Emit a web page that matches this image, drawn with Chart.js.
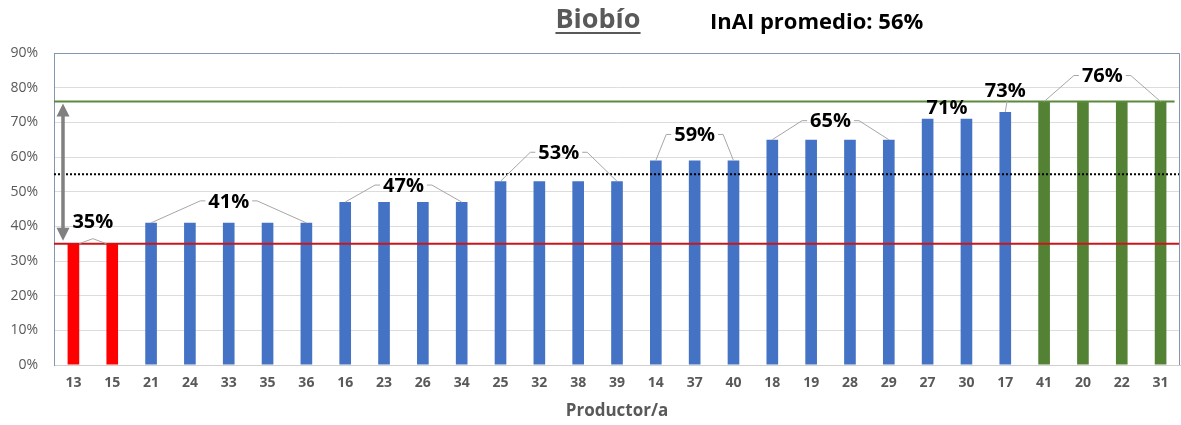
<!DOCTYPE html>
<html>
<head>
<meta charset="utf-8">
<script src="https://cdn.jsdelivr.net/npm/chart.js@4/dist/chart.umd.min.js"></script>
<style>
  html, body { margin: 0; padding: 0; background: #ffffff; }
  #wrap { position: relative; width: 1181px; height: 425px; }
</style>
</head>
<body>
<div id="wrap"><canvas id="c" width="1181" height="425"></canvas></div>
<script>
// Producers, ordered by index value
const categories = ['13','15','21','24','33','35','36','16','23','26','34','25','32','38','39',
                    '14','37','40','18','19','28','29','27','30','17','41','20','22','31'];
// InAI per producer (%)
const values = [35,35,41,41,41,41,41,47,47,47,47,53,53,53,53,
                59,59,59,65,65,65,65,71,71,73,76,76,76,76];
// Y axis ticks (%)
const yTicks = [0,10,20,30,40,50,60,70,80,90];
// Reference levels (%)
const minLevel = 35;
const maxLevel = 76;
const avgLevel = 55;
// Groups of producers sharing the same value: first and last index
const groupFrom = [0, 2, 7, 11, 15, 18, 22, 24, 25];
const groupTo   = [1, 6, 10, 14, 17, 21, 23, 24, 28];

// Label placement for each group (vertical offset above bar top, leader style)
const labelLayout = [
  { dy: -22, leader: 'tent' },
  { dy: -22, leader: 'bracket' },
  { dy: -17, leader: 'bracket' },
  { dy: -29, leader: 'bracket' },
  { dy: -26, leader: 'bracket' },
  { dy: -19, leader: 'bracket' },
  { dy: -12, leader: 'none' },
  { dy: -22, leader: 'stem' },
  { dy: -26, leader: 'bracket' }
];

const RED = '#ff0000', BLUE = '#4472c4', GREEN = '#548235';
const barColors = values.map(v => v <= minLevel ? RED : (v >= maxLevel ? GREEN : BLUE));
const FRAME = '#8497b0';
const FONT = '"Open Sans", Lato, sans-serif';

const annotations = {
  id: 'annotations',
  afterDatasetsDraw(chart) {
    const { ctx, chartArea: a, scales: { x, y } } = chart;
    ctx.save();

    // plot frame: top and right edges
    ctx.strokeStyle = FRAME;
    ctx.lineWidth = 1;
    ctx.beginPath();
    ctx.moveTo(a.left, a.top + 0.5);
    ctx.lineTo(a.right - 0.5, a.top + 0.5);
    ctx.lineTo(a.right - 0.5, a.bottom);
    ctx.stroke();

    // reference lines
    const yMax = y.getPixelForValue(maxLevel);
    const yMin = y.getPixelForValue(minLevel);
    const yAvg = y.getPixelForValue(avgLevel);
    const lastBarRight = x.getPixelForValue(values.length - 1) + 6;

    ctx.lineWidth = 2;
    ctx.strokeStyle = '#5b8a3c';
    ctx.beginPath(); ctx.moveTo(a.left, yMax); ctx.lineTo(lastBarRight + 8, yMax); ctx.stroke();

    ctx.strokeStyle = '#c8161d';
    ctx.beginPath(); ctx.moveTo(a.left, yMin); ctx.lineTo(a.right - 1, yMin); ctx.stroke();

    ctx.strokeStyle = '#000000';
    ctx.setLineDash([2, 2]);
    ctx.beginPath(); ctx.moveTo(a.left, yAvg); ctx.lineTo(a.right - 1, yAvg); ctx.stroke();
    ctx.setLineDash([]);

    // double-headed arrow between the two levels
    const ax = a.left + 9;
    const top = yMax + 2, bot = yMin - 3, head = 13, hw = 6.5;
    ctx.strokeStyle = '#808080';
    ctx.fillStyle = '#808080';
    ctx.lineWidth = 3.5;
    ctx.beginPath(); ctx.moveTo(ax, top + head - 1); ctx.lineTo(ax, bot - head + 1); ctx.stroke();
    ctx.beginPath(); ctx.moveTo(ax, top); ctx.lineTo(ax - hw, top + head); ctx.lineTo(ax + hw, top + head); ctx.closePath(); ctx.fill();
    ctx.beginPath(); ctx.moveTo(ax, bot); ctx.lineTo(ax - hw, bot - head); ctx.lineTo(ax + hw, bot - head); ctx.closePath(); ctx.fill();

    // group value labels with leader lines
    const meta = chart.getDatasetMeta(0);
    ctx.font = 'bold 20px ' + FONT;
    ctx.textAlign = 'center';
    ctx.textBaseline = 'middle';
    groupFrom.forEach((from, i) => {
      const to = groupTo[i];
      const v = values[from];
      const lay = labelLayout[i];
      const x0 = x.getPixelForValue(from), x1 = x.getPixelForValue(to);
      const bw = meta.data[from].width;
      const barTop = y.getPixelForValue(v);
      const cx = (x0 + x1) / 2;
      const cy = barTop + lay.dy;
      const text = v + '%';
      const w = ctx.measureText(text).width;

      ctx.strokeStyle = '#a6a6a6';
      ctx.lineWidth = 1;
      ctx.beginPath();
      if (lay.leader === 'bracket') {
        ctx.moveTo(x0, barTop);
        ctx.lineTo(cx - w / 2 - 8, cy);
        ctx.lineTo(cx - w / 2 - 3, cy);
        ctx.moveTo(cx + w / 2 + 3, cy);
        ctx.lineTo(cx + w / 2 + 8, cy);
        ctx.lineTo(x1, barTop);
      } else if (lay.leader === 'tent') {
        ctx.moveTo(x0 + bw / 2, barTop);
        ctx.lineTo(cx, barTop - 5);
        ctx.lineTo(x1 - bw / 2, barTop);
      } else if (lay.leader === 'stem') {
        ctx.moveTo(cx + 2, cy + 10);
        ctx.lineTo(x0, barTop);
      }
      ctx.stroke();

      ctx.fillStyle = '#000000';
      ctx.fillText(text, cx, cy + 1);
    });

    ctx.restore();
  },
  afterDraw(chart) {
    const { ctx } = chart;
    ctx.save();
    // heading
    ctx.textBaseline = 'alphabetic';
    ctx.textAlign = 'left';
    ctx.font = 'bold 27px ' + FONT;
    ctx.fillStyle = '#595959';
    const t1 = 'Biobío';
    const w1 = ctx.measureText(t1).width;
    const x1 = 598 - w1 / 2;
    ctx.fillText(t1, x1, 28);
    ctx.fillRect(x1, 32, w1, 2);

    ctx.font = 'bold 22px ' + FONT;
    ctx.fillStyle = '#000000';
    ctx.fillText('InAI promedio: 56%', 710, 29);
    ctx.restore();
  }
};

new Chart(document.getElementById('c'), {
  type: 'bar',
  data: {
    labels: categories,
    datasets: [{
      data: values,
      backgroundColor: barColors,
      borderWidth: 0,
      barPercentage: 0.3,
      categoryPercentage: 1.0
    }]
  },
  options: {
    responsive: false,
    animation: false,
    devicePixelRatio: 1,
    layout: { padding: { top: 53, right: 1, left: 0, bottom: 0 } },
    plugins: {
      legend: { display: false },
      tooltip: { enabled: false },
      title: { display: false }
    },
    scales: {
      x: {
        grid: { display: false, drawTicks: false },
        border: { display: true, color: '#cfcfcf', width: 1 },
        ticks: {
          color: '#595959',
          font: { family: FONT, size: 14, weight: 'bold' },
          padding: 10,
          maxRotation: 0,
          autoSkip: false
        },
        title: {
          display: true,
          text: 'Productor/a',
          color: '#595959',
          font: { family: FONT, size: 17, weight: 'bold' },
          padding: { top: 0, bottom: 4 }
        },
        afterFit(scale) { scale.height = 60; }
      },
      y: {
        min: 0,
        max: 90,
        afterBuildTicks(scale) { scale.ticks = yTicks.map(v => ({ value: v })); },
        grid: {
          drawTicks: false,
          color: c => (c.tick && c.tick.value === 0) ? '#cfcfcf' : '#dcdcdc'
        },
        border: { display: true, color: FRAME, width: 1 },
        ticks: {
          color: '#595959',
          font: { family: FONT, size: 14 },
          padding: 16,
          callback: v => v + '%'
        },
        afterFit(scale) { scale.width = 54; }
      }
    }
  },
  plugins: [annotations]
});
</script>
</body>
</html>
